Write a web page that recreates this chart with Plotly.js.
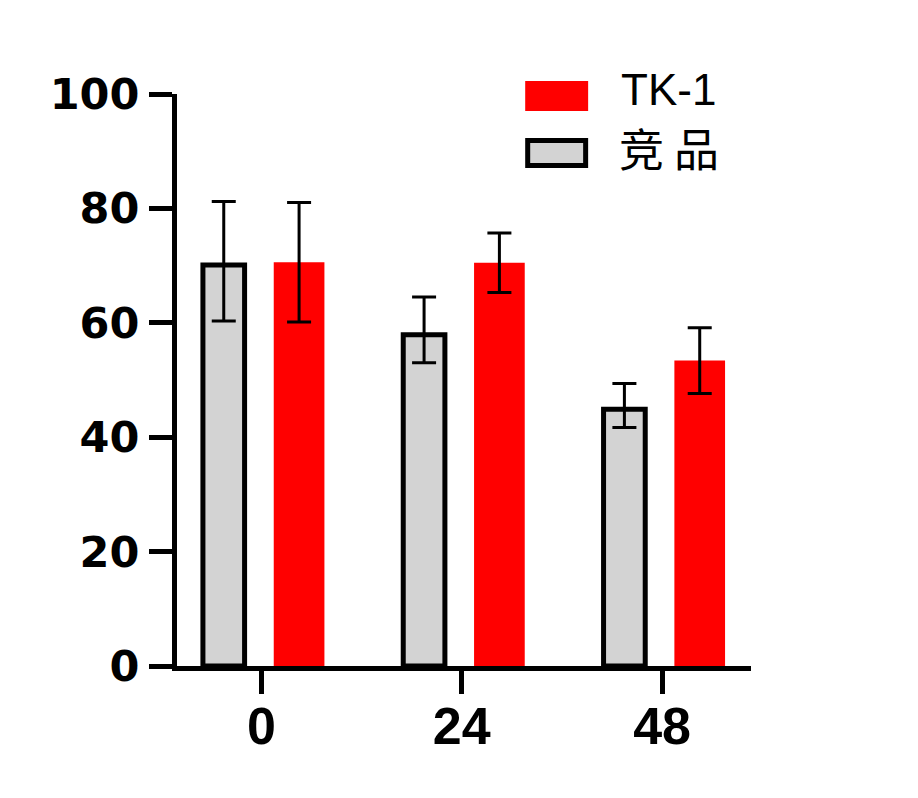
<!DOCTYPE html>
<html>
<head>
<meta charset="utf-8">
<script src="https://cdn.plot.ly/plotly-3.0.1.min.js"></script>
<style>html,body{margin:0;padding:0;background:#fff;}#chart{width:918px;height:798px;}</style>
</head>
<body>
<div id="chart"></div>
<script>
// ---- data ----
const categories = ['0', '24', '48'];
const seriesNames = ['TK-1', '竞 品'];
const tk1Values = [70.6, 70.5, 53.4];
const tk1Errors = [10.45, 5.2, 5.75];
const compValues = [70.1, 57.9, 44.9];
const compErrPlus = [11.1, 6.6, 4.5];
const compErrMinus = [9.8, 4.9, 3.2];
const yTickVals = [0, 20, 40, 60, 80, 100];
const yTickText = ['0', '20', '40', '60', '80', '100'];

const errStyle = {type: 'data', visible: true, color: '#000', thickness: 3, width: 12};

const compTrace = {
  type: 'bar', name: seriesNames[1], x: categories, y: compValues,
  width: 0.208, offset: -0.292,
  marker: {color: '#d3d3d3', line: {color: '#000', width: 5}},
  error_y: Object.assign({array: compErrPlus, arrayminus: compErrMinus, symmetric: false}, errStyle),
  showlegend: false, hoverinfo: 'skip'
};
const tk1Trace = {
  type: 'bar', name: seriesNames[0], x: categories, y: tk1Values,
  width: 0.253, offset: 0.0615,
  marker: {color: '#ff0000', line: {width: 0}},
  error_y: Object.assign({array: tk1Errors}, errStyle),
  showlegend: false, hoverinfo: 'skip'
};

const L = 176.5, R = 751, T = 94, B = 666;
const px = v => (v - L) / (R - L);
const py = v => (B - v) / (B - T);

const layout = {
  width: 918, height: 798,
  margin: {l: L, r: 918 - R, t: T, b: 798 - B, pad: 0},
  paper_bgcolor: '#fff', plot_bgcolor: '#fff',
  barmode: 'overlay',
  showlegend: false,
  xaxis: {
    type: 'category', range: [-0.4214, 2.444],
    showline: true, linecolor: '#000', linewidth: 5,
    ticks: 'outside', ticklen: 23, tickwidth: 5, tickcolor: '#000',
    ticklabelstandoff: -12,
    showgrid: false, zeroline: false,
    tickfont: {family: 'Liberation Sans, Arial, sans-serif', size: 52, color: '#000', weight: 'bold'}
  },
  yaxis: {
    range: [0, 100], tickvals: yTickVals, ticktext: yTickText,
    showline: true, linecolor: '#000', linewidth: 5,
    ticks: 'outside', ticklen: 23, tickwidth: 5, tickcolor: '#000',
    ticklabelstandoff: 1,
    showgrid: false, zeroline: false,
    tickfont: {family: 'DejaVu Sans, sans-serif', size: 43, color: '#000', weight: 'bold'}
  },
  shapes: [
    {type: 'rect', xref: 'paper', yref: 'paper', x0: px(525), x1: px(588), y0: py(111), y1: py(81),
     fillcolor: '#ff0000', line: {width: 0}},
    {type: 'rect', xref: 'paper', yref: 'paper', x0: px(527.5), x1: px(585.5), y0: py(165.5), y1: py(140.5),
     fillcolor: '#d3d3d3', line: {color: '#000', width: 5}}
  ],
  annotations: [
    {xref: 'paper', yref: 'paper', x: px(619), y: py(89), xanchor: 'left', yanchor: 'middle',
     text: seriesNames[0], showarrow: false,
     font: {family: 'Liberation Sans, Arial, sans-serif', size: 44, color: '#000'}},
    {xref: 'paper', yref: 'paper', x: px(617), y: py(148), xanchor: 'left', yanchor: 'middle',
     text: seriesNames[1], showarrow: false,
     font: {family: 'Noto Sans CJK SC, sans-serif', size: 45, color: '#000'}}
  ]
};

Plotly.newPlot('chart', [compTrace, tk1Trace], layout, {displayModeBar: false, staticPlot: true});
</script>
</body>
</html>
